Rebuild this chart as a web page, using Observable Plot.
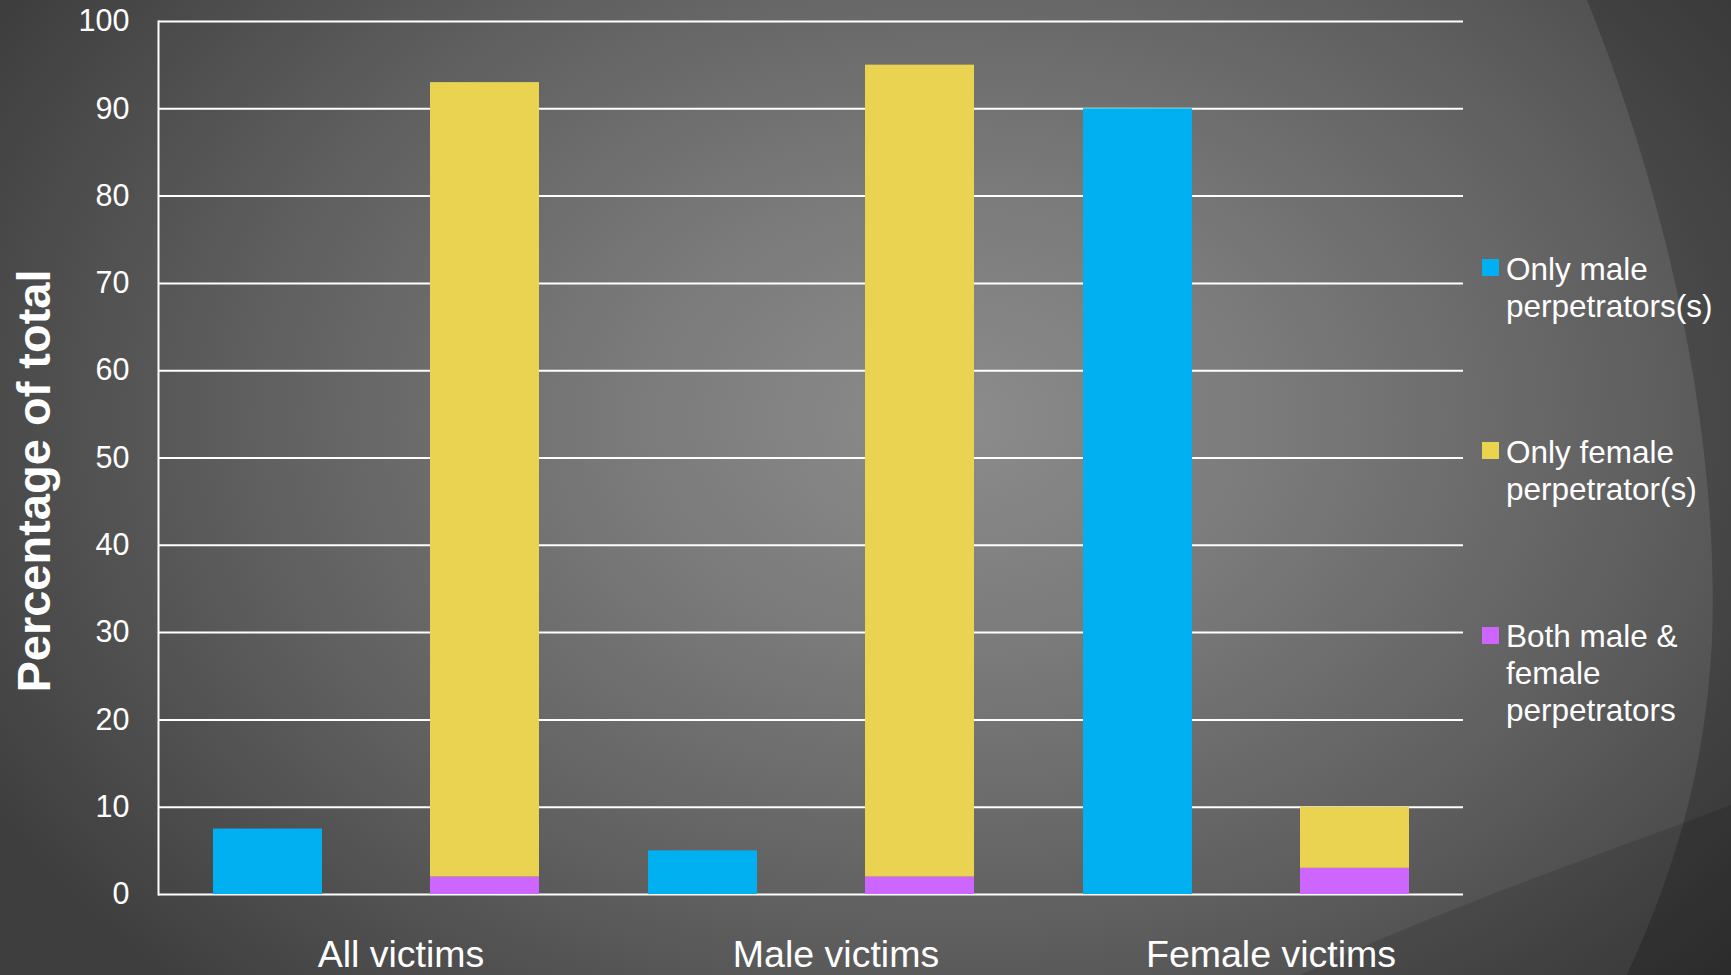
<!DOCTYPE html>
<html>
<head>
<meta charset="utf-8">
<script src="https://cdn.jsdelivr.net/npm/d3@7"></script>
<script src="https://cdn.jsdelivr.net/npm/@observablehq/plot@0.6"></script>
<style>
  html, body { margin: 0; padding: 0; }
  body { width: 1731px; height: 975px; overflow: hidden; font-family: "Liberation Sans", Arial, sans-serif; }
  #stage {
    position: relative; width: 1731px; height: 975px; overflow: hidden;
    background: radial-gradient(ellipse 1100px 800px at 950px 420px, #8c8c8c 0%, #7a7a7a 30%, #5e5e5e 65%, #3e3e3e 100%);
  }
  #deco { position: absolute; left: 0; top: 0; }
  #chart { position: absolute; left: 0; top: 0; }
  #ytitle {
    position: absolute; left: 33px; top: 481px; white-space: nowrap;
    transform: translate(-50%, -50%) rotate(-90deg);
    font-weight: bold; font-size: 47px; color: #fff; line-height: 47px;
  }
  .leg { position: absolute; color: #fff; font-size: 31.5px; line-height: 37px; left: 1506px; }
  .sw { position: absolute; width: 17px; height: 17px; left: 1482px; }
</style>
</head>
<body>
<div id="stage">
  <svg id="deco" width="1731" height="975">
    <path d="M1300,975 C1450,905 1600,855 1731,805 L1731,975 Z" fill="rgba(0,0,0,0.12)"/>
    <path d="M1587,0 C1660,180 1720,420 1712,640 C1705,780 1670,880 1627,975 L1731,975 L1731,0 Z" fill="rgba(0,0,0,0.2)"/>
  </svg>
  <div id="chart"></div>
  <div id="ytitle"></div>
  <div id="legend"></div>
</div>
<script>
const groups = ["All victims", "Male victims", "Female victims"];
const seriesNames = ["Only male perpetrators(s)", "Only female perpetrator(s)", "Both male & female perpetrators"];
const legendLines = [["Only male", "perpetrators(s)"], ["Only female", "perpetrator(s)"], ["Both male &", "female", "perpetrators"]];
const seriesColors = ["#00B0F0", "#EBD352", "#CC66FF"];
const onlyMale = [7.5, 5, 90];
const onlyFemale = [91, 93, 7];
const both = [2, 2, 3];
const yTicks = [0, 10, 20, 30, 40, 50, 60, 70, 80, 90, 100];
const yTitle = "Percentage of total";

const rows = [];
groups.forEach((g, i) => {
  rows.push({group: g, slot: "a", series: seriesNames[0], value: onlyMale[i]});
  rows.push({group: g, slot: "b", series: seriesNames[2], value: both[i]});
  rows.push({group: g, slot: "b", series: seriesNames[1], value: onlyFemale[i]});
});

const chart = Plot.plot({
  width: 1731,
  height: 975,
  marginLeft: 157,
  marginRight: 268,
  marginTop: 21,
  marginBottom: 81,
  style: {background: "transparent", color: "#fff", fontFamily: "'Liberation Sans', Arial, sans-serif"},
  fx: {domain: groups, padding: 0, label: null},
  x: {domain: ["a", "b"], paddingInner: 0.5, paddingOuter: 0.25, axis: null},
  y: {domain: [0, 100], label: null},
  color: {domain: seriesNames, range: seriesColors},
  marks: [
    Plot.ruleY(yTicks, {stroke: "#fff", strokeWidth: 2}),
    Plot.frame({anchor: "left", facetAnchor: "left", stroke: "#fff", strokeWidth: 2}),
    Plot.barY(rows, Plot.stackY({fx: "group", x: "slot", y: "value", fill: "series", order: null})),
    Plot.axisY({ticks: yTicks, tickSize: 0, tickPadding: 29, fontSize: 30.5, label: null}),
    Plot.axisFx({anchor: "bottom", tickSize: 0, tickPadding: 46, fontSize: 37.5, dx: 25, label: null})
  ]
});
document.getElementById("chart").appendChild(chart);

document.getElementById("ytitle").textContent = yTitle;

const legend = document.getElementById("legend");
const legTops = [251, 434, 618];
const swTops = [259, 442, 627];
seriesNames.forEach((s, i) => {
  const sw = document.createElement("div");
  sw.className = "sw";
  sw.style.top = swTops[i] + "px";
  sw.style.background = seriesColors[i];
  legend.appendChild(sw);
  const t = document.createElement("div");
  t.className = "leg";
  t.style.top = legTops[i] + "px";
  t.innerHTML = legendLines[i].join("<br>");
  legend.appendChild(t);
});
</script>
</body>
</html>
